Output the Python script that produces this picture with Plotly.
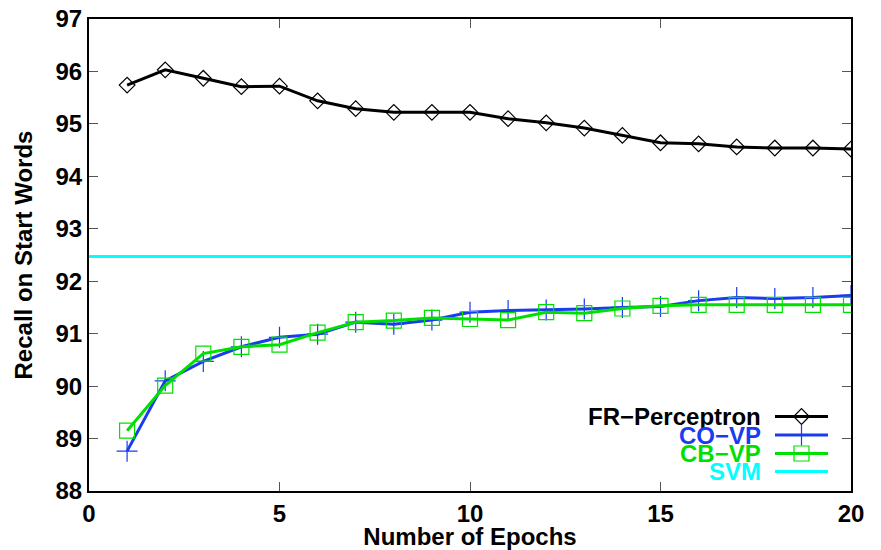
import plotly.graph_objects as go

epochs = list(range(1, 21))
fr_perceptron = [95.74, 96.03, 95.87, 95.71, 95.72, 95.44, 95.29, 95.22, 95.22, 95.22,
                 95.10, 95.02, 94.92, 94.78, 94.64, 94.62, 94.56, 94.54, 94.54, 94.52]
co_vp = [88.76, 90.10, 90.47, 90.75, 90.93, 90.99, 91.22, 91.18, 91.26, 91.41,
         91.44, 91.45, 91.47, 91.50, 91.52, 91.63, 91.69, 91.67, 91.69, 91.73]
cb_vp = [89.15, 90.01, 90.62, 90.75, 90.79, 91.02, 91.22, 91.25, 91.30, 91.28,
         91.26, 91.41, 91.39, 91.48, 91.53, 91.55, 91.55, 91.55, 91.55, 91.55]
svm_value = 92.47
svm_x = [0, 20]

series_names = ["FR\u2212Perceptron", "CO\u2212VP", "CB\u2212VP", "SVM"]
series_colors = ["#000000", "#1a3cf0", "#00e000", "#00ffff"]
x_ticks = [0, 5, 10, 15, 20]
y_ticks = [88, 89, 90, 91, 92, 93, 94, 95, 96, 97]

FONT = "Liberation Sans, Arial, sans-serif"
DIAMOND_SIZE, CROSS_SIZE, SQUARE_SIZE = 12, 15, 15

fig = go.Figure()
fig.add_trace(go.Scatter(x=svm_x, y=[svm_value] * len(svm_x), mode="lines",
                         line=dict(color=series_colors[3], width=3), showlegend=False))
fig.add_trace(go.Scatter(x=epochs, y=fr_perceptron, mode="lines+markers",
                         line=dict(color=series_colors[0], width=3),
                         marker=dict(symbol="diamond-open", size=DIAMOND_SIZE, color=series_colors[0],
                                     line=dict(width=1.2)), showlegend=False))
fig.add_trace(go.Scatter(x=epochs, y=co_vp, mode="lines+markers",
                         line=dict(color=series_colors[1], width=3),
                         marker=dict(symbol="cross-thin", size=CROSS_SIZE,
                                     line=dict(width=1.2, color=series_colors[1])), showlegend=False))
fig.add_trace(go.Scatter(x=epochs, y=cb_vp, mode="lines+markers",
                         line=dict(color=series_colors[2], width=3),
                         marker=dict(symbol="square-open", size=SQUARE_SIZE, color=series_colors[2],
                                     line=dict(width=1.2)), showlegend=False))

# custom legend (gnuplot style: right-aligned text, sample to the right)
# helper axes x2/y2 measured in page pixels of the plot area
PL, PR, PT, PB = 89, 851, 19, 491
legend_rows = [416.5, 435, 453.5, 471.5]
legend_text_right = 763
sample_x0, sample_x1 = 775, 828
legend_symbols = ["diamond-open", "cross-thin", "square-open", None]
legend_sizes = [DIAMOND_SIZE, CROSS_SIZE, SQUARE_SIZE, 0]
for name, color, ypix, sym, sz in zip(series_names, series_colors, legend_rows, legend_symbols, legend_sizes):
    fig.add_trace(go.Scatter(x=[sample_x0, sample_x1], y=[ypix, ypix], mode="lines",
                             line=dict(color=color, width=3), xaxis="x2", yaxis="y2",
                             showlegend=False, hoverinfo="skip"))
    if sym:
        fig.add_trace(go.Scatter(x=[(sample_x0 + sample_x1) / 2], y=[ypix], mode="markers",
                                 marker=dict(symbol=sym, size=sz, color=color,
                                             line=dict(width=1.2, color=color)),
                                 xaxis="x2", yaxis="y2", showlegend=False, hoverinfo="skip"))
    fig.add_annotation(x=legend_text_right, y=ypix, xref="x2", yref="y2", text=name,
                       showarrow=False, xanchor="right", yanchor="middle",
                       font=dict(family=FONT, size=24, color=color, weight="bold"))

axis_common = dict(showline=True, linecolor="black", linewidth=2, mirror="ticks",
                   ticks="inside", ticklen=9, tickcolor="#555555", tickwidth=1,
                   showgrid=False, zeroline=False, automargin=False,
                   tickfont=dict(family=FONT, size=24, color="black", weight="bold"))

fig.update_layout(
    width=881, height=550,
    margin=dict(l=PL, r=881 - PR, t=PT, b=550 - PB, autoexpand=False),
    plot_bgcolor="white", paper_bgcolor="white",
    xaxis=dict(range=[0, 20], tickvals=x_ticks, ticktext=[str(v) for v in x_ticks],
               title=dict(text="Number of Epochs", standoff=4,
                          font=dict(family=FONT, size=24, color="black", weight="bold")),
               **axis_common),
    yaxis=dict(range=[88, 97], tickvals=y_ticks, ticktext=[str(v) for v in y_ticks],
               title=dict(text="Recall on Start Words", standoff=16,
                          font=dict(family=FONT, size=24, color="black", weight="bold")),
               **axis_common),
    xaxis2=dict(range=[PL, PR], overlaying="x", visible=False, anchor="y2"),
    yaxis2=dict(range=[PB, PT], overlaying="y", visible=False, anchor="x2"),
)

fig.write_html("out.html", config={"displayModeBar": False},
               post_script="document.body.style.margin='0';")
